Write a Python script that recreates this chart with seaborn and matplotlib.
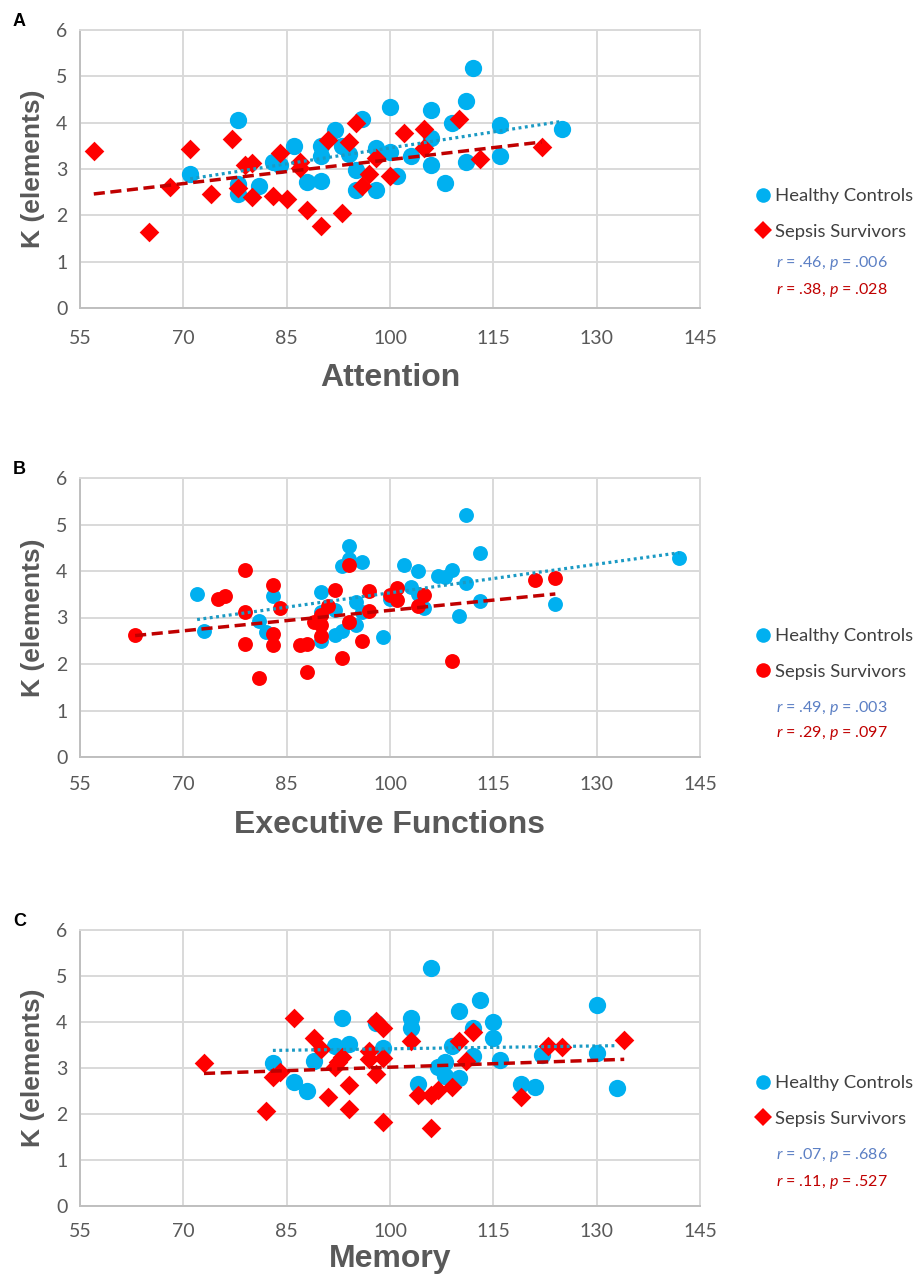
import matplotlib
matplotlib.use("Agg")
import matplotlib.pyplot as plt
import seaborn as sns
from matplotlib.lines import Line2D

sns.set_style("white")
plt.rcParams["font.family"] = ["Lato", "DejaVu Sans"]
plt.rcParams["mathtext.fontset"] = "custom"
plt.rcParams["mathtext.rm"] = "Lato"
plt.rcParams["mathtext.it"] = "Lato:italic"

# --- data ------------------------------------------------------------------
# Panel A: Attention
hc_att_x = [71, 78, 78, 78, 81, 83, 84, 86, 88, 90, 90, 90, 92, 93, 94, 95, 95, 96,
            98, 98, 100, 100, 101, 103, 106, 106, 106, 108, 109, 111, 111, 112, 116, 116, 125]
hc_att_y = [2.90, 4.05, 2.67, 2.46, 2.64, 3.16, 3.09, 3.49, 2.71, 2.75, 3.49, 3.29, 3.84,
            3.49, 3.32, 2.98, 2.54, 4.08, 3.45, 2.55, 4.33, 3.36, 2.84, 3.29, 4.28, 3.66,
            3.09, 2.69, 3.99, 4.47, 3.15, 5.17, 3.95, 3.27, 3.87]
ss_att_x = [57, 65, 68, 71, 74, 77, 78, 79, 80, 80, 83, 84, 85, 87, 87, 88, 90, 91, 93,
            94, 95, 96, 97, 98, 100, 102, 105, 105, 110, 113, 122]
ss_att_y = [3.38, 1.65, 2.61, 3.44, 2.47, 3.65, 2.59, 3.09, 3.13, 2.39, 2.42, 3.34, 2.36,
            3.16, 3.02, 2.12, 1.78, 3.62, 2.04, 3.59, 3.99, 2.64, 2.90, 3.23, 2.84, 3.77,
            3.87, 3.46, 4.08, 3.21, 3.47]

# Panel B: Executive Functions
hc_exe_x = [72, 73, 81, 82, 83, 90, 90, 90, 92, 92, 93, 93, 94, 94, 95, 95, 96, 96, 99,
            100, 102, 103, 104, 104, 105, 107, 108, 109, 110, 111, 111, 113, 113, 124, 142]
hc_exe_y = [3.50, 2.72, 2.93, 2.69, 3.46, 3.54, 2.49, 3.12, 3.16, 2.63, 2.70, 4.11, 4.54,
            4.25, 3.33, 2.84, 4.19, 3.12, 2.58, 3.40, 4.12, 3.66, 4.00, 3.51, 3.21, 3.90,
            3.87, 4.02, 3.03, 5.21, 3.74, 4.39, 3.35, 3.28, 4.28]
ss_exe_x = [63, 75, 76, 79, 79, 79, 81, 83, 83, 83, 84, 87, 88, 88, 89, 90, 90, 90, 91,
            92, 93, 94, 94, 96, 97, 97, 100, 101, 101, 104, 105, 109, 121, 124]
ss_exe_y = [2.63, 3.40, 3.46, 4.02, 3.12, 2.44, 1.70, 3.70, 2.65, 2.40, 3.21, 2.40, 2.42,
            1.82, 2.91, 3.05, 2.84, 2.60, 3.24, 3.60, 2.12, 4.12, 2.91, 2.49, 3.57, 3.14,
            3.49, 3.63, 3.37, 3.24, 3.49, 2.07, 3.81, 3.86]

# Panel C: Memory
hc_mem_x = [83, 86, 88, 89, 92, 93, 94, 98, 99, 103, 103, 104, 106, 107, 108, 108, 109,
            110, 110, 112, 112, 113, 115, 115, 116, 119, 121, 122, 130, 130, 133]
hc_mem_y = [3.11, 2.69, 2.49, 3.16, 3.47, 4.09, 3.52, 3.97, 3.43, 4.09, 3.88, 2.65, 5.18,
            3.02, 3.14, 2.83, 3.47, 4.25, 2.79, 3.86, 3.26, 4.47, 4.00, 3.65, 3.17, 2.65,
            2.58, 3.29, 4.36, 3.33, 2.56]
ss_mem_x = [73, 82, 83, 84, 86, 89, 90, 91, 92, 92.5, 93, 94, 94, 97, 97, 98, 98, 99, 99,
            99, 103, 104, 106, 106, 107, 109, 110, 111, 112, 119, 123, 125, 134]
ss_mem_y = [3.10, 2.07, 2.81, 2.91, 4.09, 3.66, 3.42, 2.38, 3.02, 3.14, 3.24, 2.62, 2.10,
            3.36, 3.19, 4.03, 2.86, 3.86, 3.22, 1.82, 3.58, 2.42, 2.42, 1.70, 2.53, 2.58,
            3.58, 3.16, 3.79, 2.38, 3.48, 3.46, 3.60]

x_ticks = [55, 70, 85, 100, 115, 130, 145]
y_ticks = [0, 1, 2, 3, 4, 5, 6]
stats_att = ["$\\it{r}$ = .46, $\\it{p}$ = .006", "$\\it{r}$ = .38, $\\it{p}$ = .028"]
stats_exe = ["$\\it{r}$ = .49, $\\it{p}$ = .003", "$\\it{r}$ = .29, $\\it{p}$ = .097"]
stats_mem = ["$\\it{r}$ = .07, $\\it{p}$ = .686", "$\\it{r}$ = .11, $\\it{p}$ = .527"]

HC_COLOR = "#00B0F0"
SS_COLOR = "#FF0000"
HC_LINE = "#1B9AC4"
SS_LINE = "#C00000"
GREY = "#595959"

W, H = 917, 1282
fig = plt.figure(figsize=(W / 100, H / 100), dpi=100)


def px_axes(left, top, right, bottom):
    return fig.add_axes([left / W, 1 - bottom / H, (right - left) / W, (bottom - top) / H])


def draw_panel(ax, hc_x, hc_y, ss_x, ss_y, ss_marker, hc_s, ss_s, xlabel, letter,
               stats, leg_y, stats_y, tick_pad, label_pad):
    sns.scatterplot(x=hc_x, y=hc_y, ax=ax, marker="o", s=hc_s, color=HC_COLOR,
                    linewidth=0, zorder=3)
    sns.scatterplot(x=ss_x, y=ss_y, ax=ax, marker=ss_marker, s=ss_s, color=SS_COLOR,
                    linewidth=0, zorder=4)
    sns.regplot(x=hc_x, y=hc_y, ax=ax, scatter=False, ci=None, truncate=True,
                line_kws=dict(color=HC_LINE, lw=2.3, ls=(0, (0.9, 1.1)), zorder=5))
    sns.regplot(x=ss_x, y=ss_y, ax=ax, scatter=False, ci=None, truncate=True,
                line_kws=dict(color=SS_LINE, lw=2.5, ls=(0, (3.2, 1.6)), zorder=5))

    ax.set_xlim(55, 145)
    ax.set_ylim(0, 6)
    ax.set_xticks(x_ticks)
    ax.set_yticks(y_ticks)
    ax.grid(True, color="#D9D9D9", lw=1.4)
    ax.set_axisbelow(True)
    for side in ["top", "right"]:
        ax.spines[side].set_color("#D9D9D9")
        ax.spines[side].set_linewidth(1.4)
    for side in ["left", "bottom"]:
        ax.spines[side].set_color("#BFBFBF")
        ax.spines[side].set_linewidth(1.4)
    ax.tick_params(axis="y", length=0, labelsize=14, labelcolor=GREY, pad=9)
    ax.tick_params(axis="x", length=0, labelsize=14, labelcolor=GREY, pad=tick_pad)

    ax.set_xlabel(xlabel, fontsize=23, fontweight="bold", color=GREY,
                  family="Liberation Sans", labelpad=label_pad)
    ax.set_ylabel("K (elements)", fontsize=19, fontweight="bold", color=GREY,
                  family="Liberation Sans", labelpad=8)
    ax.text(-0.108, 1.03, letter, transform=ax.transAxes, fontsize=13, fontweight="bold",
            family="Liberation Sans", color="black", ha="left", va="center")

    handles = [
        Line2D([], [], ls="none", marker="o", markersize=10.5, color=HC_COLOR, mew=0),
        Line2D([], [], ls="none", marker=ss_marker, markersize=9 if ss_marker == "D" else 10.5,
               color=SS_COLOR, mew=0),
    ]
    fig.legend(handles, ["Healthy Controls", "Sepsis Survivors"], loc="center left",
               bbox_to_anchor=(748 / W, 1 - leg_y / H), frameon=False, fontsize=13.3,
               labelcolor="#404040", handlelength=0.6, handletextpad=0.35,
               labelspacing=1.05, borderpad=0)
    fig.text(832 / W, 1 - stats_y[0] / H, stats[0], color="#5B7FC4", fontsize=11.5,
             ha="center", va="center")
    fig.text(832 / W, 1 - stats_y[1] / H, stats[1], color=SS_LINE, fontsize=11.5,
             ha="center", va="center")


ax_a = px_axes(80, 30, 700, 308)
draw_panel(ax_a, hc_att_x, hc_att_y, ss_att_x, ss_att_y, "D", 155, 100, "Attention", "A",
           stats_att, 214, (263, 290), 16, 11)

ax_b = px_axes(80, 478, 700, 757)
draw_panel(ax_b, hc_exe_x, hc_exe_y, ss_exe_x, ss_exe_y, "o", 115, 115,
           "Executive Functions", "B", stats_exe, 654, (708, 733), 14, 12)

ax_c = px_axes(80, 930, 700, 1206)
draw_panel(ax_c, hc_mem_x, hc_mem_y, ss_mem_x, ss_mem_y, "D", 155, 100, "Memory", "C",
           stats_mem, 1101, (1155, 1182), 12, 3)

fig.savefig("out.png", dpi=100, facecolor="white")
